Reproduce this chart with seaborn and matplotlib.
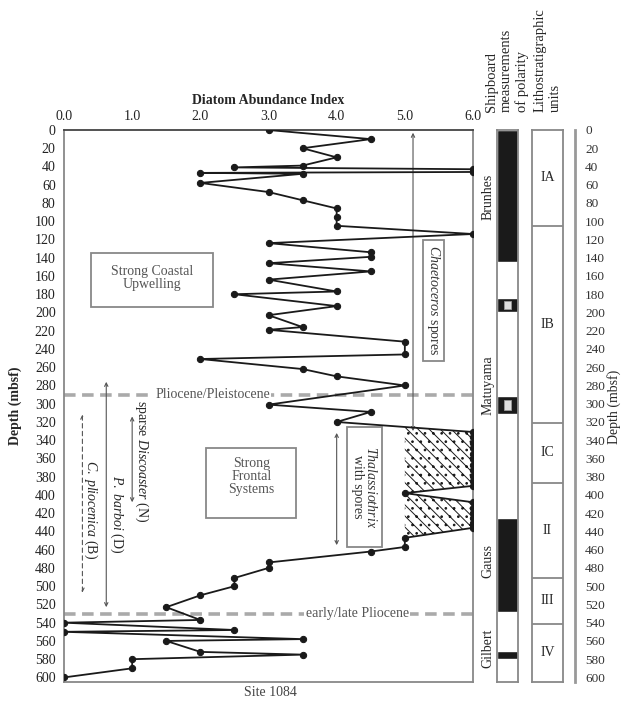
import numpy as np
import pandas as pd
import seaborn as sns
import matplotlib
matplotlib.use("Agg")
import matplotlib.pyplot as plt
from matplotlib.patches import Rectangle
from matplotlib.transforms import blended_transform_factory

# Diatom abundance index down core (Site 1084)
depth = [0, 10, 20, 30, 39, 41, 43, 46, 47, 48, 58, 68, 77, 86, 95, 105, 114, 124, 134, 139,
         146, 155, 164, 177, 180, 193, 203, 216, 219, 232, 246, 251, 262, 270, 280, 301, 309, 320,
         331, 337, 343, 349, 355, 361, 367, 373, 379, 385, 390, 398, 408, 414, 420, 425, 431, 436,
         447, 457, 462, 474, 480, 491, 500, 510, 523, 537, 540, 548, 550, 558, 560, 572, 575, 580,
         590, 600]
abundance = [3.0, 4.5, 3.5, 4.0, 3.5, 2.5, 6.0, 6.0, 2.0, 3.5, 2.0, 3.0, 3.5, 4.0, 4.0, 4.0, 6.0, 3.0, 4.5, 4.5,
             3.0, 4.5, 3.0, 4.0, 2.5, 4.0, 3.0, 3.5, 3.0, 5.0, 5.0, 2.0, 3.5, 4.0, 5.0, 3.0, 4.5, 4.0,
             6.0, 6.0, 6.0, 6.0, 6.0, 6.0, 6.0, 6.0, 6.0, 6.0, 6.0, 5.0, 6.0, 6.0, 6.0, 6.0, 6.0, 6.0,
             5.0, 5.0, 4.5, 3.0, 3.0, 2.5, 2.5, 2.0, 1.5, 2.0, 0.0, 2.5, 0.0, 3.5, 1.5, 2.0, 3.5, 1.0,
             1.0, 0.0]

# polarity (black = normal), two short uncertain events
pol_top = [0, 184, 291, 425, 571]
pol_bot = [145, 200, 311, 528, 580]
pol_uncertain = [False, True, True, False, False]
chrons = ["Brunhes", "Matuyama", "Gauss", "Gilbert"]
chron_mid = [73, 280, 472, 568]

# lithostratigraphic units
unit_bounds = [0, 105, 321, 387, 491, 541, 605]
unit_names = ["IA", "IB", "IC", "II", "III", "IV"]

W, H = 633, 702
sns.set_theme(style="white")
plt.rcParams["font.family"] = ["Liberation Serif", "DejaVu Serif"]
plt.rcParams["mathtext.fontset"] = "custom"
plt.rcParams["mathtext.rm"] = "Liberation Serif"
plt.rcParams["mathtext.it"] = "Liberation Serif:italic"
plt.rcParams["hatch.linewidth"] = 0.7

FS = 10

def fx(px):
    return px / W

def fy(py):
    return 1 - py / H

fig = plt.figure(figsize=(W / 100, H / 100), dpi=100)
ax = fig.add_axes([fx(64), fy(682), (473 - 64) / W, (682 - 130) / H])

df = pd.DataFrame({"depth": depth, "abundance": abundance})
sns.lineplot(data=df, x="abundance", y="depth", sort=False, estimator=None, color="k",
             marker="o", markersize=4.5, markeredgecolor="k", linewidth=1.3, ax=ax, zorder=4)

# stippled / hatched area where index exceeds 5
grid = np.linspace(320, 458, 600)
xi = np.interp(grid, df["depth"], df["abundance"])
ax.fill_betweenx(grid, 5.0, xi, where=xi >= 5.0, facecolor="none", edgecolor="k",
                 hatch="\\\\\\..", linewidth=0, zorder=2)

ax.set_xlim(0, 6)
ax.set_ylim(605, 0)
ax.xaxis.tick_top()
ax.xaxis.set_label_position("top")
ax.set_xticks(np.arange(0, 6.1, 1))
ax.set_xticklabels([f"{v:.1f}" for v in np.arange(0, 6.1, 1)])
ax.set_yticks(np.arange(0, 601, 20))
ax.tick_params(axis="both", length=0, labelsize=FS, colors="#222222")
ax.tick_params(axis="x", pad=5)
ax.tick_params(axis="y", pad=6)
ax.set_xlabel("Diatom Abundance Index", fontsize=FS, fontweight="bold", labelpad=4)
ax.set_ylabel("Depth (mbsf)", fontsize=FS, fontweight="bold")
ax.yaxis.set_label_coords(-0.103, 0.5)
for side, sp in ax.spines.items():
    sp.set_color("#444444" if side == "top" else "#888888")
    sp.set_linewidth(1.3)

# epoch boundaries
for d, lab, xt in [(290, "Pliocene/Pleistocene", 2.18), (530, "early/late Pliocene", 4.3)]:
    ax.axhline(d, color="#aaaaaa", lw=2.6, dashes=(3.2, 1.8), zorder=1)
    ax.text(xt, d, lab, fontsize=FS, color="#555555", ha="center", va="center", zorder=3,
            bbox=dict(facecolor="white", edgecolor="none", pad=1))

# annotation boxes
box_kw = dict(facecolor="none", edgecolor="#888888", lw=1.3, zorder=3)
ax.add_patch(Rectangle((0.40, 135), 1.78, 59, **box_kw))
ax.text(1.29, 162, "Strong Coastal\nUpwelling", fontsize=FS, color="#555555", ha="center",
        va="center", linespacing=1.05)
ax.add_patch(Rectangle((2.09, 349), 1.32, 76, **box_kw))
ax.text(2.75, 380, "Strong\nFrontal\nSystems", fontsize=FS, color="#555555", ha="center",
        va="center", linespacing=1.0)
ax.add_patch(Rectangle((5.26, 121), 0.31, 132, **box_kw))
ax.text(5.415, 187, r"$\it{Chaetoceros}$ spores", fontsize=FS, rotation=-90, ha="center",
        va="center", color="#333333")
ax.add_patch(Rectangle((4.15, 326), 0.51, 131, facecolor="white", edgecolor="#888888", lw=1.3, zorder=3))
ax.text(4.405, 391, r"$\it{Thalassiothrix}$" + "\nwith spores", fontsize=FS, rotation=-90,
        ha="center", va="center", color="#333333", multialignment="center", linespacing=1.0, zorder=4)

arrow = dict(arrowstyle="<->", color="#555555", lw=0.8, shrinkA=0, shrinkB=0, mutation_scale=6)
ax.annotate("", xy=(5.12, 3), xytext=(5.12, 330), arrowprops=arrow)
ax.annotate("", xy=(4.0, 332), xytext=(4.0, 455), arrowprops=arrow)
ax.annotate("", xy=(0.62, 276), xytext=(0.62, 523), arrowprops=arrow)
ax.annotate("", xy=(1.0, 314), xytext=(1.0, 408), arrowprops=arrow)
ax.annotate("", xy=(0.27, 312), xytext=(0.27, 507),
            arrowprops=dict(arrow, linestyle=(0, (4, 3))))
ax.text(0.39, 416, r"$\it{C.\ pliocenica}$ (B)", fontsize=FS, rotation=-90, ha="center", va="center")
ax.text(0.78, 421, r"$\it{P.\ barboi}$ (D)", fontsize=FS, rotation=-90, ha="center", va="center")
ax.text(1.14, 363, r"sparse $\it{Discoaster}$ (N)", fontsize=FS, rotation=-90, ha="center", va="center")

fig.text(fx(270), fy(693), "Site 1084", fontsize=FS, color="#444444", ha="center", va="center")

# polarity column
ax_pol = fig.add_axes([fx(497), fy(682), 21 / W, (682 - 130) / H])
ax_pol.set_xlim(0, 1)
ax_pol.set_ylim(605, 0)
for t, b, unc in zip(pol_top, pol_bot, pol_uncertain):
    ax_pol.bar(0.5, b - t, bottom=t, width=1, color="k")
    if unc:
        ax_pol.bar(0.5, (b - t) * 0.55, bottom=t + (b - t) * 0.22, width=0.38,
                   color="#dddddd", edgecolor="#999999", lw=0.6)
ax_pol.set_xticks([])
ax_pol.set_yticks([])
for sp in ax_pol.spines.values():
    sp.set_color("#888888")
    sp.set_linewidth(1.3)
tr = blended_transform_factory(ax_pol.transAxes, ax_pol.transData)
for name, mid in zip(chrons, chron_mid):
    ax_pol.text(-0.42, mid, name, transform=tr, rotation=90, ha="center", va="center", fontsize=FS)

# lithostratigraphic column
ax_lit = fig.add_axes([fx(532), fy(682), 31 / W, (682 - 130) / H])
ax_lit.set_xlim(0, 1)
ax_lit.set_ylim(605, 0)
for b in unit_bounds[1:-1]:
    ax_lit.axhline(b, color="#888888", lw=1.3)
for name, t, b in zip(unit_names, unit_bounds[:-1], unit_bounds[1:]):
    ax_lit.text(0.5, (t + b) / 2, name, ha="center", va="center", fontsize=FS)
ax_lit.set_xticks([])
ax_lit.set_yticks([])
for sp in ax_lit.spines.values():
    sp.set_color("#888888")
    sp.set_linewidth(1.3)

# right depth scale
ax_r = fig.add_axes([fx(575), fy(682), 0.0005, (682 - 130) / H])
ax_r.set_ylim(605, 0)
ax_r.set_xticks([])
ax_r.yaxis.tick_right()
ax_r.set_yticks(np.arange(0, 601, 20))
ax_r.tick_params(axis="y", length=0, pad=7, labelsize=FS - 0.5, colors="#333333")
for side, sp in ax_r.spines.items():
    sp.set_visible(side == "left")
ax_r.spines["left"].set_color("#999999")
ax_r.spines["left"].set_linewidth(2)
fig.text(fx(614), fy(407), "Depth (mbsf)", rotation=90, ha="center", va="center", fontsize=FS)

# column headers
fig.text(fx(507), fy(112), "Shipboard\nmeasurements\nof polarity", rotation=90, ha="center",
         va="bottom", fontsize=10.5, multialignment="left", linespacing=1.2)
fig.text(fx(548), fy(112), "Lithostratigraphic\nunits", rotation=90, ha="center",
         va="bottom", fontsize=10.5, multialignment="left", linespacing=1.2)

fig.savefig("out.png", dpi=100)
